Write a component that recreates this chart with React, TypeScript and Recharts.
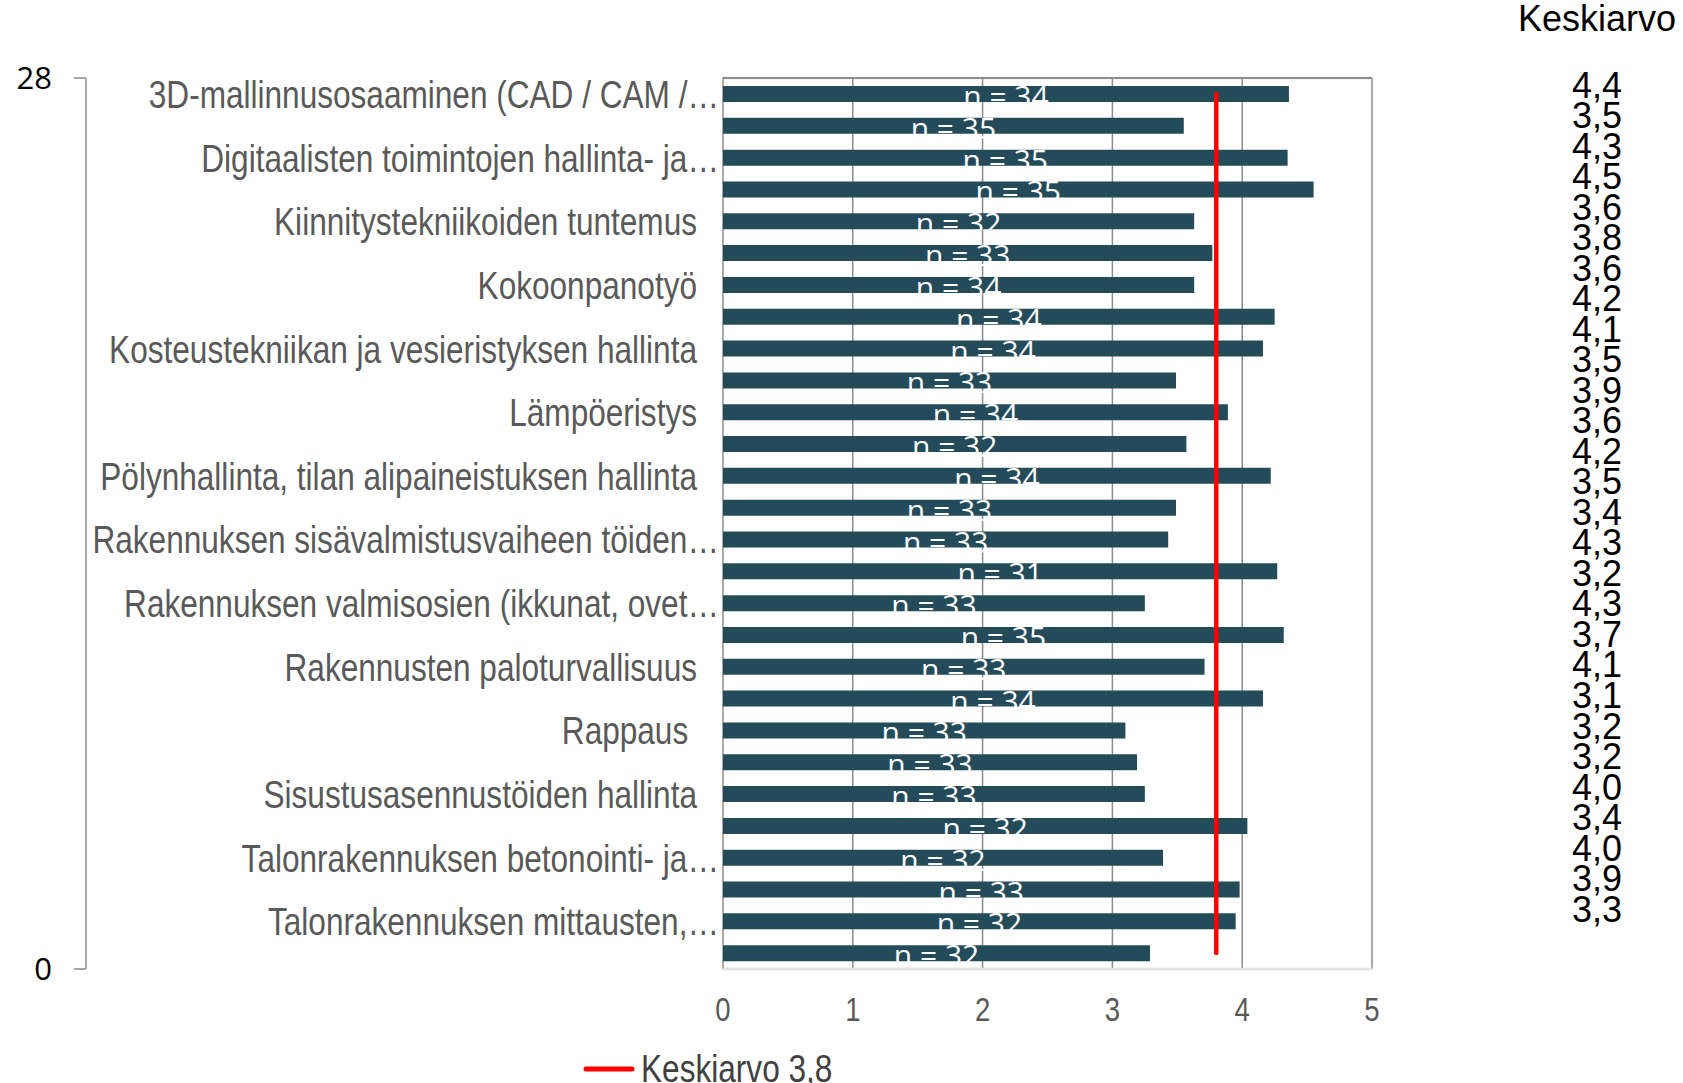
import {
  ComposedChart,
  Bar,
  Line,
  XAxis,
  YAxis,
  CartesianGrid,
  ReferenceLine,
  Legend,
  LabelList,
} from "recharts";

// #region Data
const categories = [
  "3D-mallinnusosaaminen (CAD / CAM /…",
  "",
  "Digitaalisten toimintojen hallinta- ja…",
  "",
  "Kiinnitystekniikoiden tuntemus",
  "",
  "Kokoonpanotyö",
  "",
  "Kosteustekniikan ja vesieristyksen hallinta",
  "",
  "Lämpöeristys",
  "",
  "Pölynhallinta, tilan alipaineistuksen hallinta",
  "",
  "Rakennuksen sisävalmistusvaiheen töiden…",
  "",
  "Rakennuksen valmisosien (ikkunat, ovet…",
  "",
  "Rakennusten paloturvallisuus",
  "",
  "Rappaus\u00a0",
  "",
  "Sisustusasennustöiden hallinta",
  "",
  "Talonrakennuksen betonointi- ja…",
  "",
  "Talonrakennuksen mittausten,…",
  "",
];

const means = [
  4.36, 3.55, 4.35, 4.55, 3.63, 3.77, 3.63, 4.25, 4.16, 3.49, 3.89, 3.57, 4.22,
  3.49, 3.43, 4.27, 3.25, 4.32, 3.71, 4.16, 3.1, 3.19, 3.25, 4.04, 3.39, 3.98,
  3.95, 3.29,
];

const counts = [
  34, 35, 35, 35, 32, 33, 34, 34, 34, 33, 34, 32, 34, 33, 33, 31, 33, 35, 33,
  34, 33, 33, 33, 32, 32, 33, 32, 32,
];

const meanLabels = [
  "4,4", "3,5", "4,3", "4,5", "3,6", "3,8", "3,6", "4,2", "4,1", "3,5", "3,9",
  "3,6", "4,2", "3,5", "3,4", "4,3", "3,2", "4,3", "3,7", "4,1", "3,1", "3,2",
  "3,2", "4,0", "3,4", "4,0", "3,9", "3,3",
];

const overallMean = 3.8;
const overallLabel = "Keskiarvo 3,8";
const xTicks = [0, 1, 2, 3, 4, 5];
const rowCountTicks = [0, 28];
const boundaryTicks = Array.from({ length: 29 }, (_, i) => i);
// #endregion

const data = categories.map((label, i) => ({
  id: i,
  label,
  mean: means[i],
  n: counts[i],
  avg: overallMean,
}));

// Arial Narrow look: Liberation Sans squeezed horizontally
const SANS = "'Liberation Sans', Arial, sans-serif";
const SQUEEZE = 0.81;

const CategoryTick = (props: any) => {
  const { x, y, payload } = props;
  const text = categories[payload.index] ?? "";
  if (!text) return null;
  const truncated = text.endsWith("…");
  const tx = truncated ? x + 2 : x - 20;
  return (
    <text
      transform={`translate(${tx},${y}) scale(${SQUEEZE},1)`}
      dy="0.36em"
      textAnchor="end"
      fill="#595959"
      fontSize={39}
      fontFamily={SANS}
      style={{ whiteSpace: "pre" }}
    >
      {text}
    </text>
  );
};

const XTick = (props: any) => {
  const { x, y, payload } = props;
  return (
    <text
      transform={`translate(${x},${y}) scale(${SQUEEZE},1)`}
      dy="0.71em"
      textAnchor="middle"
      fill="#595959"
      fontSize={34}
      fontFamily={SANS}
    >
      {payload.value}
    </text>
  );
};

const CountLabel = (props: any) => {
  const { x, y, width, height, value } = props;
  return (
    <text
      x={x + width / 2}
      y={y + height + 5}
      textAnchor="middle"
      fill="#ffffff"
      fontSize={30}
      fontFamily="'Open Sans', sans-serif"
    >
      {`n = ${value}`}
    </text>
  );
};

const LegendContent = () => (
  <div
    style={{
      display: "flex",
      alignItems: "center",
      height: 40,
      transform: "translateY(6px)",
    }}
  >
    <svg width={52} height={8}>
      <line x1={3} y1={4} x2={49} y2={4} stroke="#ff0000" strokeWidth={5} strokeLinecap="round" />
    </svg>
    <span
      style={{
        fontFamily: SANS,
        fontSize: 39,
        color: "#404040",
        marginLeft: 6,
        lineHeight: "40px",
        whiteSpace: "nowrap",
        display: "inline-block",
        transform: `scaleX(${SQUEEZE})`,
        transformOrigin: "left center",
      }}
    >
      {overallLabel}
    </span>
  </div>
);

const App = () => {
  return (
    <div style={{ position: "absolute", left: 0, top: 0, width: 1683, height: 1083, background: "#fff" }}>
      <ComposedChart
        width={1683}
        height={1083}
        layout="vertical"
        data={data}
        margin={{ top: 78, right: 311, bottom: 0, left: 0 }}
      >
        <CartesianGrid
          yAxisId="grid"
          vertical={false}
          stroke="#e3e3e3"
          strokeWidth={2.5}
        />
        <CartesianGrid
          yAxisId="grid"
          horizontal={false}
          stroke="#8c8c8c"
          strokeWidth={1.5}
        />
        <XAxis
          type="number"
          domain={[0, 5]}
          ticks={xTicks}
          height={74}
          axisLine={{ stroke: "#e3e3e3", strokeWidth: 2.5 }}
          tickLine={false}
          tickMargin={22}
          tick={<XTick />}
        />
        <YAxis
          yAxisId="grid"
          type="number"
          dataKey="id"
          domain={[0, 28]}
          allowDataOverflow
          reversed
          ticks={boundaryTicks}
          width={0}
          tick={false}
          tickSize={8}
          axisLine={{ stroke: "#a6a6a6", strokeWidth: 2 }}
          tickLine={{ stroke: "#a6a6a6", strokeWidth: 2 }}
        />
        <YAxis
          yAxisId="cat"
          type="category"
          dataKey="id"
          width={637}
          axisLine={false}
          tickLine={false}
          tickSize={6}
          tickMargin={0}
          interval={0}
          tick={<CategoryTick />}
        />
        <YAxis
          yAxisId="count"
          type="number"
          dataKey="id"
          domain={[0, 28]}
          allowDataOverflow
          reversed
          ticks={rowCountTicks}
          width={86}
          tickSize={12}
          tickMargin={22}
          axisLine={{ stroke: "#a6a6a6", strokeWidth: 2 }}
          tickLine={{ stroke: "#a6a6a6", strokeWidth: 2 }}
          tick={{ fill: "#000000", fontSize: 31, fontFamily: "'Open Sans', sans-serif" }}
        />
        <ReferenceLine yAxisId="grid" y={28} stroke="#8c8c8c" strokeWidth={2} />
        <Bar
          yAxisId="cat"
          dataKey="mean"
          fill="#244b5a"
          barSize={16}
          isAnimationActive={false}
          legendType="none"
        >
          <LabelList dataKey="n" content={<CountLabel />} />
        </Bar>
        <Line
          yAxisId="cat"
          dataKey="avg"
          name={overallLabel}
          stroke="#ff0000"
          strokeWidth={4.5}
          strokeLinecap="round"
          dot={false}
          activeDot={false}
          isAnimationActive={false}
        />
        <Legend
          verticalAlign="bottom"
          align="left"
          height={40}
          content={<LegendContent />}
          wrapperStyle={{ left: 583, width: 400 }}
        />
      </ComposedChart>
      <div
        style={{
          position: "absolute",
          left: 1516,
          top: 0,
          width: 162,
          textAlign: "center",
          fontFamily: SANS,
          fontSize: 36,
          lineHeight: "38px",
          color: "#000",
        }}
      >
        Keskiarvo
      </div>
      <div
        style={{
          position: "absolute",
          left: 1540,
          top: 70.7,
          width: 114,
          textAlign: "center",
          fontFamily: SANS,
          fontSize: 36,
          lineHeight: "30.52px",
          color: "#000",
        }}
      >
        {meanLabels.map((m, i) => (
          <div key={i}>{m}</div>
        ))}
      </div>
    </div>
  );
};

export default App;
